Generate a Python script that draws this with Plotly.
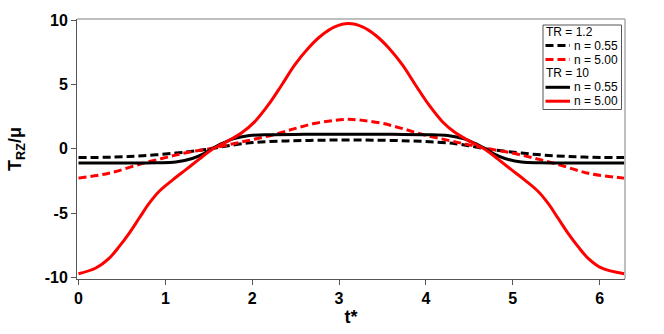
import plotly.graph_objects as go

# ---- data ----
# TR = 10, n = 5.00 (red solid), left half, then mirrored about the peak
t_rs_left = [0.0, 0.20, 0.355, 0.47, 0.585, 0.70, 0.815, 0.93, 1.085, 1.24, 1.39, 1.525,
             1.725, 1.88, 2.03, 2.185, 2.34, 2.49, 2.645, 2.80, 2.95, 3.11]
y_rs_left = [-9.73, -9.28, -8.51, -7.60, -6.56, -5.39, -4.23, -3.30, -2.41, -1.60, -0.80, -0.10,
             0.62, 1.25, 2.12, 3.42, 4.98, 6.54, 7.84, 8.85, 9.50, 9.76]

# TR = 10, n = 0.55 (black solid)
t_bs_left = [0.0, 0.5, 0.9, 1.12, 1.31, 1.42, 1.52, 1.63, 1.78, 1.97, 2.2, 2.6, 3.11]
y_bs_left = [-1.11, -1.11, -1.09, -1.03, -0.75, -0.45, -0.05, 0.35, 0.78, 1.04, 1.11, 1.13, 1.14]

# TR = 1.2, n = 0.55 (black dashed)
t_bd_left = [0.0, 0.4, 0.74, 1.12, 1.35, 1.52, 1.69, 1.88, 2.1, 2.4, 2.75, 3.11]
y_bd_left = [-0.68, -0.64, -0.54, -0.33, -0.15, 0.0, 0.2, 0.4, 0.53, 0.62, 0.67, 0.70]

# TR = 1.2, n = 5.00 (red dashed)
t_rd_left = [0.0, 0.35, 0.73, 1.0, 1.24, 1.52, 1.77, 2.0, 2.27, 2.5, 2.73, 2.95, 3.11]
y_rd_left = [-2.28, -1.9, -1.15, -0.68, -0.3, 0.03, 0.38, 0.72, 1.14, 1.6, 2.0, 2.22, 2.30]

# legend entries
legend_groups = ["TR = 1.2", "TR = 10"]
legend_labels = ["n = 0.55", "n = 5.00"]
legend_colors = ["black", "#ff0000"]

xticks = [0, 1, 2, 3, 4, 5, 6]
yticks = [-10, -5, 0, 5, 10]

T_END = 6.2832
CENTER2 = 6.22  # the curves are symmetric about ~3.11


def full(tl, yl):
    tr = [CENTER2 - t for t in reversed(tl[1:-1])]
    yr = list(reversed(yl[1:-1]))
    return tl + tr + [T_END], yl + yr + [yl[0]]


W, H = 664, 334
ML, MR, MT, MB = 77, 39, 19, 55
PW, PH = W - ML - MR, H - MT - MB


def px(x):
    return (x - ML) / PW


def py(y):
    return (H - MB - y) / PH


fig = go.Figure()
dash = "8px,4px"
series = [
    (t_bd_left, y_bd_left, 0, 0, True),
    (t_rd_left, y_rd_left, 0, 1, True),
    (t_bs_left, y_bs_left, 1, 0, False),
    (t_rs_left, y_rs_left, 1, 1, False),
]
for tl, yl, g, k, dashed in series:
    t, y = full(tl, yl)
    fig.add_trace(go.Scatter(
        x=t, y=y, mode="lines",
        name=f"{legend_groups[g]}, {legend_labels[k]}",
        line=dict(color=legend_colors[k], width=3, dash=dash if dashed else "solid",
                  shape="spline"),
        showlegend=False))

axis_font = dict(family="Liberation Sans", size=16, color="black", weight="bold")

fig.update_layout(
    width=W, height=H,
    margin=dict(l=ML, r=MR, t=MT, b=MB),
    plot_bgcolor="white", paper_bgcolor="white",
    font=dict(family="Liberation Sans", color="black"),
    xaxis=dict(range=[-0.017, 6.292], tickvals=xticks, ticktext=[str(v) for v in xticks],
               showgrid=False, zeroline=False, showline=True, linecolor="#555555", linewidth=1,
               ticks="outside", ticklen=5, tickcolor="#555555", tickfont=axis_font,
               automargin=False,
               title=dict(text="t*", font=dict(family="Liberation Sans", size=18, weight="bold"),
                          standoff=4)),
    yaxis=dict(range=[-10.14, 10.12], tickvals=yticks, ticktext=[str(v) for v in yticks],
               showgrid=False, zeroline=False, showline=True, linecolor="#555555", linewidth=1,
               ticks="outside", ticklen=5, tickcolor="#555555", tickfont=axis_font,
               automargin=False,
               title=dict(text="T<sub>RZ</sub>/μ",
                          font=dict(family="Liberation Sans", size=18, weight="bold"),
                          standoff=18)),
)

# lighter top and right frame lines
fig.add_shape(type="line", xref="paper", yref="paper", x0=0, x1=1, y0=1, y1=1,
              line=dict(color="#aaaaaa", width=1.5))
fig.add_shape(type="line", xref="paper", yref="paper", x0=1, x1=1, y0=0, y1=1,
              line=dict(color="#aaaaaa", width=1.5))

# legend box (drawn like the reference's compact legend)
fig.add_shape(type="rect", xref="paper", yref="paper",
              x0=px(543), x1=px(621.5), y0=py(109.5), y1=py(25),
              line=dict(color="#555555", width=1), fillcolor="white", layer="above")
row_y = [31.7, 45.6, 59.5, 73.4, 87.3, 101.2]
row = 0
for g, gname in enumerate(legend_groups):
    fig.add_annotation(x=px(545), y=py(row_y[row]), xref="paper", yref="paper",
                       text=gname, showarrow=False, xanchor="left", yanchor="middle",
                       borderpad=0,
                       font=dict(family="Liberation Sans", size=12, color="black"))
    row += 1
    for k, lab in enumerate(legend_labels):
        fig.add_shape(type="line", xref="paper", yref="paper",
                      x0=px(545.5), x1=px(570), y0=py(row_y[row]), y1=py(row_y[row]),
                      line=dict(color=legend_colors[k], width=3,
                                dash=dash if g == 0 else "solid"),
                      layer="above")
        fig.add_annotation(x=px(573), y=py(row_y[row]), xref="paper", yref="paper",
                           text=lab, showarrow=False, xanchor="left", yanchor="middle",
                           borderpad=0,
                           font=dict(family="Liberation Sans", size=12, color="black"))
        row += 1

fig.write_html("out.html", config={"displayModeBar": False},
               post_script="document.body.style.margin='0px';")
